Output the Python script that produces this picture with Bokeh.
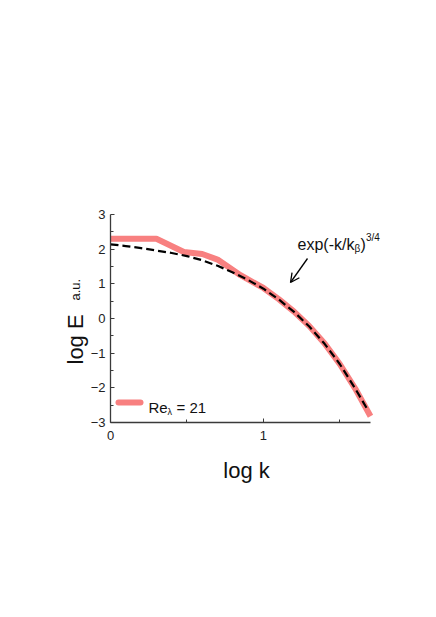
from bokeh.plotting import figure
from bokeh.models import (Label, Arrow, OpenHead, FixedTicker, Range1d, LinearAxis)
from bokeh.embed import file_html
from bokeh.resources import INLINE

# ---- data ----
log_k_data = [0.0, 0.30, 0.48, 0.60, 0.70, 0.85, 1.0, 1.1, 1.2, 1.3, 1.4, 1.5, 1.6, 1.7]
log_E_data = [2.30, 2.30, 1.92, 1.86, 1.70, 1.25, 0.88, 0.56, 0.20, -0.22, -0.72, -1.32, -2.02, -2.82]

log_k_fit = [0.0, 0.1, 0.2, 0.3, 0.4, 0.5, 0.6, 0.7, 0.8, 0.9, 1.0, 1.1, 1.2, 1.3, 1.4, 1.5, 1.6, 1.68]
log_E_fit = [2.14, 2.09, 2.03, 1.96, 1.89, 1.80, 1.68, 1.52, 1.33, 1.11, 0.86, 0.55, 0.19, -0.23, -0.73, -1.32, -2.02, -2.62]

x_ticks = [0, 1]
x_minor = [0.5, 1.5]
y_ticks = [-3, -2, -1, 0, 1, 2, 3]
y_minor = [-2.5, -1.5, -0.5, 0.5, 1.5, 2.5]
x_min, x_max = 0.0, 1.7
y_min, y_max = -3.0, 3.0

legend_text = "Re"
legend_sub = "λ"
legend_rest = "= 21"

RED = "#F88080"
FONT = "Liberation Sans"

# ---- layout helpers (page pixels -> data) ----
X0_PX, X_PER = 110.0, 260.0 / 1.7
Y0_PX, Y_PER = 214.0, 208.0 / 6.0
def px2x(px):
    return (px - X0_PX) / X_PER
def px2y(py):
    return 3 - (py - Y0_PX) / Y_PER

W, H = 420, 600
OFF = 0
p = figure(width=W, height=H, output_backend="svg", toolbar_location=None,
           x_range=Range1d(px2x(OFF), px2x(OFF + W)), y_range=Range1d(px2y(OFF + H), px2y(OFF)),
           x_axis_location=None, y_axis_location=None,
           min_border_left=0, min_border_right=0, min_border_top=0, min_border_bottom=0)
p.outline_line_color = None
p.xgrid.visible = False
p.ygrid.visible = False
p.background_fill_color = "white"
p.border_fill_color = "white"

xax = LinearAxis(fixed_location=y_min, bounds=(x_min, x_max),
                 ticker=FixedTicker(ticks=x_ticks, minor_ticks=x_minor))
yax = LinearAxis(fixed_location=x_min, bounds=(y_min, y_max),
                 ticker=FixedTicker(ticks=y_ticks, minor_ticks=y_minor))
for ax in (xax, yax):
    ax.axis_line_color = "#3a3a3a"
    ax.axis_line_width = 1.3
    ax.major_tick_line_color = "#3a3a3a"
    ax.minor_tick_line_color = "#3a3a3a"
    ax.major_tick_in = 4
    ax.major_tick_out = 0
    ax.minor_tick_in = 3
    ax.minor_tick_out = 0
    ax.major_label_text_font = FONT
    ax.major_label_text_font_size = "13px"
    ax.major_label_text_color = "#222222"
xax.major_label_standoff = 8
yax.major_label_standoff = 5
p.add_layout(xax, "below")
p.add_layout(yax, "left")

p.line(log_k_data, log_E_data, line_color=RED, line_width=6, line_join="round")
p.line(log_k_fit, log_E_fit, line_color="black", line_width=2.2, line_dash="8 4")

def lab(xp, yp, text, size, **kw):
    p.add_layout(Label(x=px2x(xp), y=px2y(yp), text=text, text_font=FONT,
                       text_font_size=size, text_baseline="alphabetic",
                       text_color="#111111", **kw))

# axis titles
lab(246, 470, "log k", "22px", text_align="center")
lab(75, 364, "log E", "22px", angle=1.5708, text_align="left")
lab(75, 300, "a.u.", "13px", angle=1.5708, text_align="left")

# annotation text exp(-k/k_beta)^{3/4}
lab(297, 244, "exp(-k/k", "16px")
lab(354, 248, "β", "10px")
lab(360, 244, ")", "16px")
lab(365.5, 237, "3/4", "10px")
p.add_layout(Arrow(end=OpenHead(size=9, line_width=1.3, line_color="black"),
                   x_start=px2x(307), y_start=px2y(258), x_end=px2x(290), y_end=px2y(282),
                   line_width=1.3, line_color="black"))

# legend
p.segment(x0=[px2x(118)], y0=[px2y(402)], x1=[px2x(140)], y1=[px2y(402)],
          line_color=RED, line_width=6, line_cap="round")
lab(148, 407, legend_text, "15px")
lab(167, 411, legend_sub, "9px")
lab(176, 407, legend_rest, "15px")

open("out.html", "w").write(file_html(p, INLINE))
